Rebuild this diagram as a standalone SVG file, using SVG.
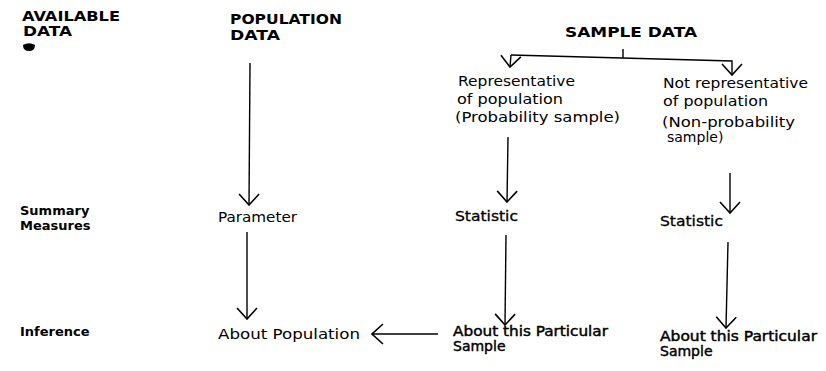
<svg xmlns="http://www.w3.org/2000/svg" width="826" height="371" viewBox="0 0 826 371">
<defs>
<style>
text{font-family:"DejaVu Sans","Liberation Sans",Arial,sans-serif;fill:#000}
.h{font-weight:bold;font-size:14.5px}
.s{font-weight:bold;font-size:13px}
.t{font-size:14px}
.m{font-size:14px;stroke:#000;stroke-width:0.45}
.ln{stroke:#000;stroke-width:1.4;fill:none}
</style>
<marker id="arr" markerUnits="userSpaceOnUse" viewBox="0 0 13 22" refX="12" refY="11" markerWidth="13" markerHeight="22" orient="auto">
<path d="M1,1 L12,11 L1,21" fill="none" stroke="#000" stroke-width="1.6"/>
</marker>
</defs>
<rect width="826" height="371" fill="#fff"/>

<g id="row-labels">
<text class="h" x="22" y="21" textLength="98" lengthAdjust="spacingAndGlyphs">AVAILABLE</text>
<text class="h" x="23" y="36" textLength="49" lengthAdjust="spacingAndGlyphs">DATA</text>
<path d="M23,45 Q29,41.5 35,45 Q35,51 29,51 Q23,51 23,45 Z" fill="#000"/>
<text class="s" x="20" y="215">Summary</text>
<text class="s" x="20" y="230">Measures</text>
<text class="s" x="20" y="336">Inference</text>
</g>

<g id="population-data">
<text class="h" x="230" y="24" textLength="112" lengthAdjust="spacingAndGlyphs">POPULATION</text>
<text class="h" x="230" y="40" textLength="50" lengthAdjust="spacingAndGlyphs">DATA</text>
</g>
<g id="parameter">
<text class="t" x="218" y="222" textLength="79" lengthAdjust="spacingAndGlyphs">Parameter</text>
</g>
<g id="about-population">
<text class="t" x="218" y="339" textLength="142" lengthAdjust="spacingAndGlyphs">About Population</text>
</g>

<g id="sample-data">
<text class="h" x="565" y="37" textLength="132" lengthAdjust="spacingAndGlyphs">SAMPLE DATA</text>
</g>
<g id="representative">
<text class="t" x="458" y="86" textLength="117" lengthAdjust="spacingAndGlyphs">Representative</text>
<text class="t" x="457" y="104" textLength="106" lengthAdjust="spacingAndGlyphs">of population</text>
<text class="t" x="455" y="122" textLength="165" lengthAdjust="spacingAndGlyphs">(Probability sample)</text>
</g>
<g id="not-representative">
<text class="t" x="663" y="88" textLength="145" lengthAdjust="spacingAndGlyphs">Not representative</text>
<text class="t" x="663" y="106" textLength="105" lengthAdjust="spacingAndGlyphs">of population</text>
<text class="t" x="662" y="127" textLength="133" lengthAdjust="spacingAndGlyphs">(Non-probability</text>
<text class="t" x="667" y="142">sample)</text>
</g>
<g id="statistic-left">
<text class="t" x="455" y="221" textLength="63" lengthAdjust="spacingAndGlyphs" stroke="#000" stroke-width="0.3">Statistic</text>
</g>
<g id="statistic-right">
<text class="t" x="660" y="226" textLength="63" lengthAdjust="spacingAndGlyphs" stroke="#000" stroke-width="0.3">Statistic</text>
</g>
<g id="particular-left">
<text class="m" x="453" y="336" textLength="155" lengthAdjust="spacingAndGlyphs">About this Particular</text>
<text class="m" x="453" y="351">Sample</text>
</g>
<g id="particular-right">
<text class="m" x="660" y="341" textLength="157" lengthAdjust="spacingAndGlyphs">About this Particular</text>
<text class="m" x="660" y="356">Sample</text>
</g>

<g id="connectors">
<line class="ln" x1="250" y1="63" x2="249" y2="205" marker-end="url(#arr)"/>
<line class="ln" x1="247" y1="232" x2="247" y2="319" marker-end="url(#arr)"/>
<polyline class="ln" points="511,55 732,61 732,75" marker-end="url(#arr)"/>
<line class="ln" x1="511" y1="55" x2="510" y2="67" marker-end="url(#arr)"/>
<line class="ln" x1="623" y1="49" x2="623" y2="58"/>
<line class="ln" x1="508" y1="137" x2="507" y2="202" marker-end="url(#arr)"/>
<line class="ln" x1="506" y1="235" x2="505" y2="325" marker-end="url(#arr)"/>
<line class="ln" x1="730" y1="173" x2="730" y2="213" marker-end="url(#arr)"/>
<line class="ln" x1="728" y1="242" x2="726" y2="328" marker-end="url(#arr)"/>
<line class="ln" x1="438" y1="334" x2="372" y2="334" marker-end="url(#arr)"/>
</g>
</svg>
